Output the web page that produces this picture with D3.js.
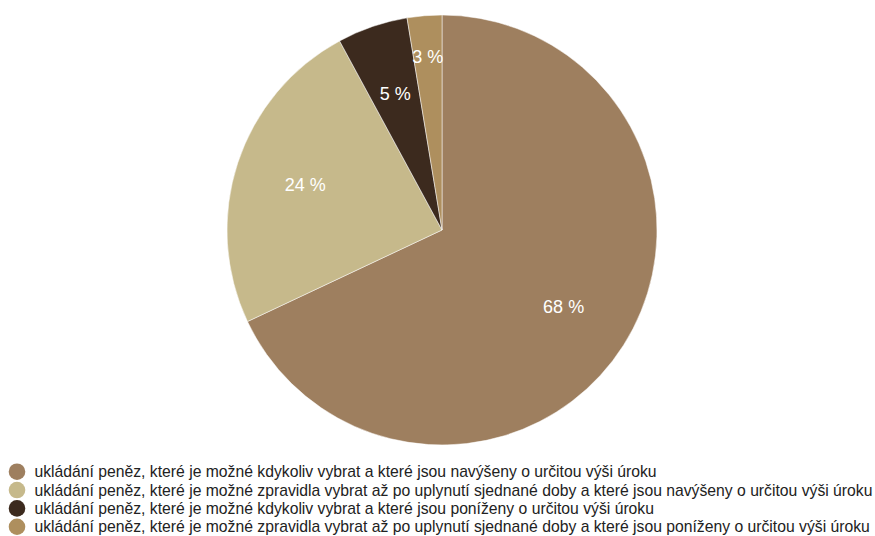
<!DOCTYPE html>
<html><head><meta charset="utf-8">
<script src="https://cdn.jsdelivr.net/npm/d3@7"></script>
<style>body{margin:0;background:#fff;}svg{display:block;font-family:"Liberation Sans",Arial,sans-serif;}</style>
</head><body><svg id="c" width="875" height="536"></svg>
<script>
const categories = [
  "ukládání peněz, které je možné kdykoliv vybrat a které jsou navýšeny o určitou výši úroku",
  "ukládání peněz, které je možné zpravidla vybrat až po uplynutí sjednané doby a které jsou navýšeny o určitou výši úroku",
  "ukládání peněz, které je možné kdykoliv vybrat a které jsou poníženy o určitou výši úroku",
  "ukládání peněz, které je možné zpravidla vybrat až po uplynutí sjednané doby a které jsou poníženy o určitou výši úroku"
];
const values = [68, 24.1, 5.3, 2.6];
const labels = ["68 %", "24 %", "5 %", "3 %"];
const colors = ["#9E7F5F", "#C6B98B", "#3C2A1E", "#AE8F5E"];

const svg = d3.select("#c");
const cx = 442, cy = 230, R = 215;
const pie = d3.pie().sort(null).value(d => d)(values);
const arc = d3.arc().innerRadius(0).outerRadius(R);
const labelR = d => (d.endAngle - d.startAngle) < 0.2 ? R * 0.81 : R * 0.67;
const g = svg.append("g").attr("transform", `translate(${cx},${cy})`);
g.selectAll("path").data(pie).join("path")
  .attr("d", arc).attr("fill", (d, i) => colors[i])
  .attr("stroke", "#fff").attr("stroke-width", 0.5);
g.selectAll("text").data(pie).join("text")
  .attr("transform", d => {
    const r = labelR(d);
    return `translate(${d3.arc().innerRadius(r).outerRadius(r).centroid(d)})`;
  })
  .attr("text-anchor", "middle").attr("dy", "0.35em")
  .attr("fill", "#fff").attr("font-size", 18)
  .text((d, i) => labels[i]);

const lg = svg.append("g");
const rows = lg.selectAll("g").data(categories).join("g")
  .attr("transform", (d, i) => `translate(0,${471.7 + i * 18.35})`);
rows.append("circle").attr("cx", 17).attr("cy", 0).attr("r", 8.3).attr("fill", (d, i) => colors[i]);
rows.append("text").attr("x", 34.5).attr("dy", "0.35em").attr("font-size", 15.72).attr("fill", "#222").text(d => d);
</script></body></html>
